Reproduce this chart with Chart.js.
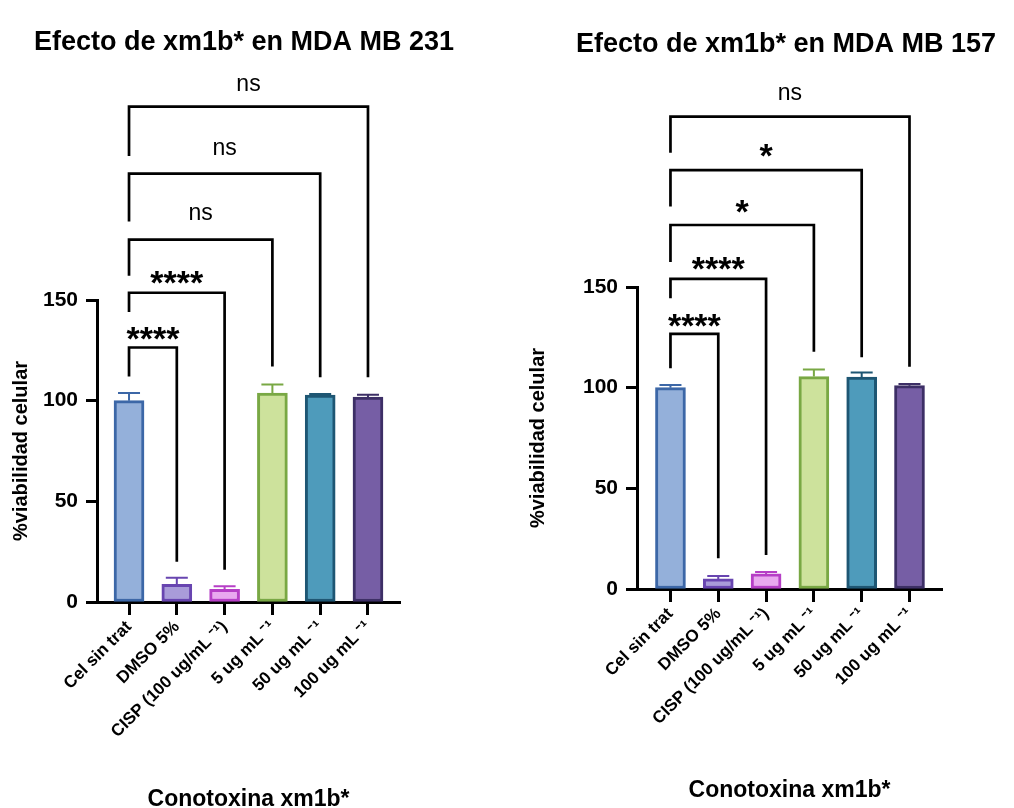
<!DOCTYPE html>
<html>
<head>
<meta charset="utf-8">
<script src="https://cdn.jsdelivr.net/npm/chart.js@4/dist/chart.umd.min.js"></script>
<style>
  body { margin: 0; background: #fff; width: 1014px; height: 808px; position: relative; overflow: hidden; }
  canvas { position: absolute; top: 0; }
  #c231 { left: 0; }
  #c157 { left: 507px; }
</style>
</head>
<body>
<canvas id="c231" width="507" height="808"></canvas>
<canvas id="c157" width="507" height="808"></canvas>
<script>
//
// data
//
const categories = ["Cel sin trat", "DMSO 5%", "CISP (100 ug/mL \u207B\u00B9)", "5 ug mL \u207B\u00B9", "50 ug mL \u207B\u00B9", "100 ug mL \u207B\u00B9"];
const yTicks = [0, 50, 100, 150];

// MDA MB 231
const mean231 = [100, 8.8, 6.3, 103.8, 102.8, 101.8];
const err231 = [3.8, 3.2, 1.5, 4.2, 0.5, 1.2];
// MDA MB 157
const mean157 = [100, 5, 7.5, 105.5, 105.2, 101];
const err157 = [1.3, 1.5, 0.9, 3.5, 2.3, 0.8];

// comparisons against "Cel sin trat" (group index compared, outer bracket first)
const cmpTo = [5, 4, 3, 2, 1];
const sig231 = ["ns", "ns", "ns", "****", "****"];
const sig157 = ["ns", "*", "*", "****", "****"];
// bracket heights in y units (bar, left leg end, right leg end, label)
const level231 = [246, 212.8, 180, 153.6, 126.4];
const legL231 = [221.5, 189, 162, 144, 112];
const legR231 = [111.6, 111.6, 117, 16, 20];
const text231 = [257, 224.9, 192.5, 162.7, 135.3];
const level157 = [234.6, 208.1, 180.8, 154, 126.7];
const legL157 = [216.7, 190, 162.4, 144.4, 109.6];
const legR157 = [110.4, 115.1, 117.9, 16.9, 15.3];
const text157 = [246, 219.6, 191.8, 163.4, 135.3];

// bar styles
const fills = ["#94b0da", "#a99cd9", "#e9a9ef", "#cde29c", "#4e9bbb", "#765ea5"];
const edges = ["#3c67a7", "#6845b0", "#b63fc6", "#79a844", "#1e5673", "#3d2f66"];

const FONT = "'Liberation Sans', Arial, sans-serif";

function annotations(title, means, errs, sig, level, legL, legR, textY, titleX, titleY) {
  return {
    id: "annot",
    afterDatasetsDraw(chart) {
      const ctx = chart.ctx, x = chart.scales.x, y = chart.scales.y;
      ctx.save();
      // error bars (upper only)
      ctx.lineWidth = 2;
      for (let i = 0; i < means.length; i++) {
        const px = x.getPixelForValue(i);
        const top = y.getPixelForValue(means[i] + errs[i]);
        ctx.strokeStyle = edges[i];
        ctx.beginPath();
        ctx.moveTo(px, y.getPixelForValue(means[i]));
        ctx.lineTo(px, top);
        ctx.moveTo(px - 11, top);
        ctx.lineTo(px + 11, top);
        ctx.stroke();
      }
      // significance brackets
      ctx.strokeStyle = "#000";
      ctx.fillStyle = "#000";
      ctx.lineWidth = 2.7;
      ctx.lineJoin = "miter";
      ctx.textAlign = "center";
      ctx.textBaseline = "alphabetic";
      const x0 = x.getPixelForValue(0);
      for (let k = 0; k < cmpTo.length; k++) {
        const x1 = x.getPixelForValue(cmpTo[k]);
        const yl = y.getPixelForValue(level[k]);
        ctx.beginPath();
        ctx.moveTo(x0, y.getPixelForValue(legL[k]));
        ctx.lineTo(x0, yl);
        ctx.lineTo(x1, yl);
        ctx.lineTo(x1, y.getPixelForValue(legR[k]));
        ctx.stroke();
        const ty = y.getPixelForValue(textY[k]);
        if (sig[k] === "ns") {
          ctx.font = "23px " + FONT;
          ctx.fillText(sig[k], (x0 + x1) / 2, ty + 6);
        } else {
          ctx.font = "bold 34px " + FONT;
          ctx.fillText(sig[k], (x0 + x1) / 2, ty + 20);
        }
      }
      ctx.restore();
    },
    afterDraw(chart) {
      const ctx = chart.ctx;
      ctx.save();
      ctx.fillStyle = "#000";
      ctx.font = "bold 27px " + FONT;
      ctx.textAlign = "center";
      ctx.textBaseline = "alphabetic";
      ctx.fillText(title, titleX, titleY);
      ctx.restore();
    }
  };
}

function makeChart(id, title, means, errs, sig, level, legL, legR, textY, geo) {
  return new Chart(id, {
    type: "bar",
    data: {
      datasets: [{
        data: means.map((v, i) => ({x: i, y: v})),
        backgroundColor: fills,
        borderColor: edges,
        borderWidth: 3,
        borderSkipped: false,
        barThickness: 30
      }]
    },
    options: {
      responsive: false,
      animation: false,
      layout: {padding: {top: geo.top, left: geo.left, right: geo.right, bottom: 0}},
      plugins: {legend: {display: false}, tooltip: {enabled: false}},
      scales: {
        x: {
          type: "linear",
          offset: false,
          min: geo.xmin,
          max: geo.xmax,
          afterFit: s => { s.height = geo.xh; },
          afterBuildTicks: s => { s.ticks = categories.map((c, i) => ({value: i})); },
          ticks: {
            callback: v => categories[v],
            autoSkip: false,
            minRotation: 45,
            maxRotation: 45,
            color: "#000",
            padding: 2,
            font: {family: FONT, size: 17, weight: "bold"}
          },
          grid: {offset: false, drawOnChartArea: false, tickLength: 13, tickWidth: 3, tickColor: "#000"},
          border: {color: "#000", width: 3},
          title: {
            display: true,
            text: "Conotoxina xm1b*",
            color: "#000",
            font: {family: FONT, size: 23, weight: "bold", lineHeight: 1},
            padding: {top: 0, bottom: geo.xtPad}
          }
        },
        y: {
          min: 0,
          max: 150,
          afterFit: s => { s.width = geo.yw; },
          afterBuildTicks: s => { s.ticks = yTicks.map(v => ({value: v})); },
          ticks: {color: "#000", padding: 8, font: {family: FONT, size: 21, weight: "bold"}},
          grid: {drawOnChartArea: false, tickLength: 11, tickWidth: 3, tickColor: "#000"},
          border: {color: "#000", width: 3},
          title: {
            display: true,
            text: "%viabilidad celular",
            color: "#000",
            font: {family: FONT, size: 20, weight: "bold"},
            padding: {top: 9, bottom: 0}
          }
        }
      }
    },
    plugins: [annotations(title, means, errs, sig, level, legL, legR, textY, geo.titleX, geo.titleY)]
  });
}

const chart231 = makeChart("c231", "Efecto de xm1b* en MDA MB 231", mean231, err231, sig231,
  level231, legL231, legR231, text231,
  {top: 300, left: 0, right: 107, yw: 97, xh: 206, xmin: -0.67, xmax: 5.67, xtPad: -3, titleX: 244, titleY: 50});

const chart157 = makeChart("c157", "Efecto de xm1b* en MDA MB 157", mean157, err157, sig157,
  level157, legL157, legR157, text157,
  {top: 287, left: 10, right: 72, yw: 120, xh: 219, xmin: -0.7, xmax: 5.68, xtPad: 6, titleX: 279, titleY: 52});
</script>
</body>
</html>
